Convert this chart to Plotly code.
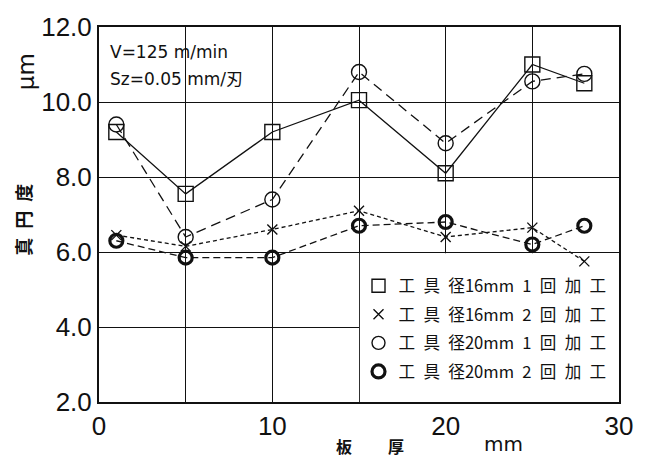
import plotly.graph_objects as go

# Data
thickness = [1, 5, 10, 15, 20, 25, 28]
d16_pass1 = [9.2, 7.55, 9.2, 10.05, 8.1, 11.0, 10.5]
d16_pass2 = [6.45, 6.15, 6.6, 7.1, 6.4, 6.65, 5.75]
d20_pass1 = [9.4, 6.4, 7.4, 10.8, 8.9, 10.55, 10.75]
d20_pass2 = [6.3, 5.85, 5.85, 6.7, 6.8, 6.2, 6.7]

S = "\u2002"
series_names = [
    f"工{S}具{S}径16mm{S}1{S}回{S}加{S}工",
    f"工{S}具{S}径16mm{S}2{S}回{S}加{S}工",
    f"工{S}具{S}径20mm{S}1{S}回{S}加{S}工",
    f"工{S}具{S}径20mm{S}2{S}回{S}加{S}工",
]
x_tickvals = [0, 5, 10, 15, 20, 25, 30]
x_ticktext = ["0", "", "10", "", "20", "", "30"]
y_tickvals = [2, 4, 6, 8, 10, 12]
y_ticktext = ["2.0", "4.0", "6.0", "8.0", "10.0", "12.0"]

BLACK = "#111111"

L, R, T, B = 99, 21, 23, 55
PW, PH = 645 - L - R, 457 - T - B

styles = [
    dict(y=d16_pass1, dash="solid", symbol="square-open", size=15, mlw=1.4),
    dict(y=d16_pass2, dash="4px,3px", symbol="x-thin-open", size=10, mlw=1.4),
    dict(y=d20_pass1, dash="10px,6px", symbol="circle-open", size=15, mlw=1.4),
    dict(y=d20_pass2, dash="7px,4px", symbol="circle-open", size=13, mlw=3.2),
]

fig = go.Figure()
for name, s in zip(series_names, styles):
    fig.add_trace(go.Scatter(
        x=thickness, y=s["y"], mode="lines+markers", showlegend=False,
        line=dict(color=BLACK, width=1.3, dash=s["dash"]),
        marker=dict(symbol=s["symbol"], size=s["size"], color=BLACK,
                    line=dict(color=BLACK, width=s["mlw"])),
    ))
for i, (name, s) in enumerate(zip(series_names, styles)):
    fig.add_trace(go.Scatter(
        x=[None], y=[None], mode="markers", name=name, legendgroup=f"g{i}",
        marker=dict(symbol=s["symbol"], size=min(s["size"], 13), color=BLACK,
                    line=dict(color=BLACK, width=s["mlw"])),
    ))

# white cell behind the legend (covers gridlines, below data)
fig.add_shape(type="rect", xref="x", yref="y", x0=15.05, x1=30, y0=2, y1=5.97,
              fillcolor="white", line=dict(width=0), layer="between")

fig.update_layout(
    width=645, height=457,
    margin=dict(l=L, r=R, t=T, b=B),
    paper_bgcolor="white", plot_bgcolor="white",
    font=dict(family="Liberation Sans, Arial, sans-serif", color=BLACK),
    legend=dict(
        x=(361 - L) / PW, y=1 - (267 - T) / PH, xanchor="left", yanchor="top",
        bgcolor="rgba(0,0,0,0)", borderwidth=0,
        font=dict(family="Noto Sans CJK JP, DejaVu Sans", size=16.6, color=BLACK),
        tracegroupgap=4, itemwidth=30,
    ),
    xaxis=dict(
        range=[0, 30], tickvals=x_tickvals, ticktext=x_ticktext,
        showgrid=True, gridcolor=BLACK, gridwidth=1.4,
        showline=True, linecolor=BLACK, linewidth=2, mirror=True,
        ticks="", zeroline=False,
        tickfont=dict(size=26, family="Liberation Sans, Arial"),
    ),
    yaxis=dict(
        range=[2, 12], tickvals=y_tickvals, ticktext=y_ticktext,
        showgrid=True, gridcolor=BLACK, gridwidth=1.4,
        showline=True, linecolor=BLACK, linewidth=2, mirror=True,
        ticks="", zeroline=False,
        tickfont=dict(size=26, family="Liberation Sans, Arial"),
    ),
)

annos = [
    dict(text="V=125 m/min", x=108, y=48, xanchor="left", size=17, family="DejaVu Sans"),
    dict(text="Sz=0.05 mm/刃", x=108, y=76, xanchor="left", size=17, family="DejaVu Sans, Noto Sans CJK JP"),
    dict(text="μm", x=25, y=68, xanchor="center", size=23, family="DejaVu Sans", angle=-90),
    dict(text=f"<b>真{S}円{S}度</b>", x=22, y=218, xanchor="center", size=18, family="Noto Sans CJK JP", angle=-90),
    dict(text="<b>板</b>", x=346, y=446, xanchor="center", size=16, family="Noto Sans CJK JP"),
    dict(text="<b>厚</b>", x=399, y=446, xanchor="center", size=16, family="Noto Sans CJK JP"),
    dict(text="mm", x=507, y=444, xanchor="center", size=20, family="DejaVu Sans"),
]
for a in annos:
    fig.add_annotation(
        text=a["text"], xref="paper", yref="paper",
        x=(a["x"] - L) / PW,
        y=1 - (a["y"] - T) / PH,
        xanchor=a["xanchor"], yanchor="middle", showarrow=False,
        textangle=a.get("angle", 0),
        font=dict(size=a["size"], family=a["family"], color=BLACK),
    )

fig.write_html("out.html")
